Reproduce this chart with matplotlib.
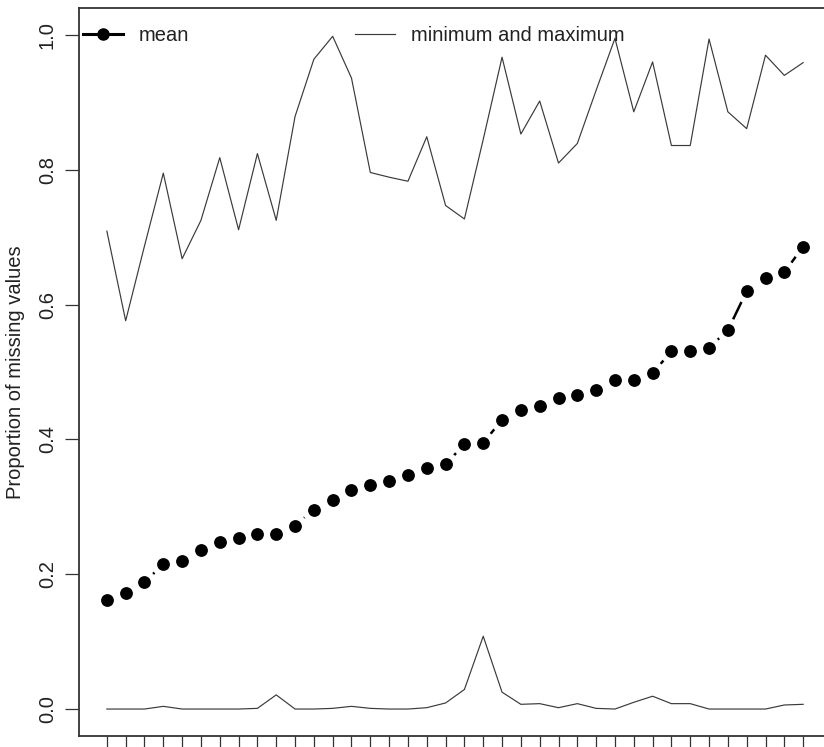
import matplotlib
matplotlib.use("Agg")
import numpy as np
import matplotlib.pyplot as plt
from matplotlib.lines import Line2D

plt.rcParams['font.family'] = ['Liberation Sans', 'DejaVu Sans']

# Data (38 variables, sorted by mean)
mean_vals = [0.162, 0.172, 0.188, 0.215, 0.220, 0.236, 0.248, 0.253, 0.260, 0.260,
             0.272, 0.296, 0.310, 0.325, 0.332, 0.338, 0.347, 0.357, 0.363, 0.393,
             0.395, 0.429, 0.444, 0.449, 0.462, 0.466, 0.473, 0.488, 0.488, 0.498,
             0.531, 0.531, 0.536, 0.562, 0.620, 0.639, 0.648, 0.686]
max_vals = [0.709, 0.576, 0.687, 0.795, 0.668, 0.725, 0.818, 0.711, 0.824, 0.725,
            0.879, 0.964, 0.998, 0.936, 0.796, 0.789, 0.783, 0.849, 0.747, 0.727,
            0.845, 0.967, 0.853, 0.902, 0.810, 0.839, 0.918, 0.995, 0.886, 0.960,
            0.836, 0.836, 0.994, 0.886, 0.861, 0.970, 0.940, 0.959]
min_vals = [0.000, 0.000, 0.000, 0.004, 0.000, 0.000, 0.000, 0.000, 0.001, 0.021,
            0.000, 0.000, 0.001, 0.004, 0.001, 0.000, 0.000, 0.002, 0.009, 0.029,
            0.108, 0.025, 0.007, 0.008, 0.002, 0.008, 0.001, 0.000, 0.010, 0.019,
            0.008, 0.008, 0.000, 0.000, 0.000, 0.000, 0.006, 0.007]
y_ticks = [0.0, 0.2, 0.4, 0.6, 0.8, 1.0]

x = np.arange(1, len(mean_vals) + 1)

W, H = 824, 747
fig = plt.figure(figsize=(W / 100, H / 100), dpi=100)
# right edge of the box lies just outside the picture, like the cropped original
ax = fig.add_axes([79 / W, 11 / H, (831 - 79) / W, (736 - 8) / H])

txt = '#222222'
fs = 14.5

# min / max lines
ax.plot(x, max_vals, color='#3a3a3a', lw=0.85, zorder=2)
ax.plot(x, min_vals, color='#3a3a3a', lw=0.85, zorder=2)

# mean: R type="b" -> line with gaps round the points
ax.plot(x, mean_vals, color='black', lw=1.8, zorder=2)
ax.plot(x, mean_vals, ls='none', marker='o', ms=16.5, mfc='white', mec='white', zorder=3)
ax.plot(x, mean_vals, ls='none', marker='o', ms=8.2, mfc='black', mec='black', zorder=4)

ax.set_xlim(x[0] - 0.04 * (x[-1] - x[0]), x[-1] + 0.04 * (x[-1] - x[0]))
ax.set_ylim(-0.04, 1.04)

ax.set_xticks(x)
ax.set_xticklabels([])
ax.set_yticks(y_ticks)
ax.set_yticklabels([f'{v:.1f}' for v in y_ticks], rotation=90, va='center',
                   fontsize=fs, color=txt)
ax.tick_params(axis='both', length=10, width=0.9, color='#333333', pad=6)
ax.tick_params(axis='x', length=12)

for s in ax.spines.values():
    s.set_color('#333333')
    s.set_linewidth(1.3)

ax.set_ylabel('Proportion of missing values', fontsize=fs, color=txt, labelpad=9)

handles = [Line2D([], [], color='black', lw=2.2, marker='o', ms=8),
           Line2D([], [], color='#3a3a3a', lw=0.85)]
ax.legend(handles, ['mean', 'minimum and maximum'], ncol=2, frameon=False,
          loc='center left', bbox_to_anchor=(0.005, 0.962), borderpad=0,
          borderaxespad=0, handlelength=2.0, handletextpad=0.8,
          columnspacing=8.2, prop={'size': fs}, labelcolor=txt)

fig.savefig('out.png', dpi=100)
